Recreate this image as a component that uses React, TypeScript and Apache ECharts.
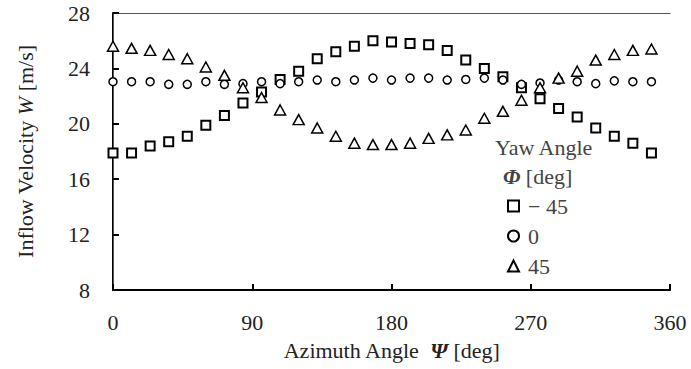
import React, { useEffect, useRef } from "react";
import * as echarts from "echarts";

const azimuth = [0, 12, 24, 36, 48, 60, 72, 84, 96, 108, 120, 132, 144, 156, 168, 180, 192, 204, 216, 228, 240, 252, 264, 276, 288, 300, 312, 324, 336, 348];
const yawMinus45 = [17.9, 17.9, 18.4, 18.7, 19.1, 19.9, 20.6, 21.5, 22.3, 23.2, 23.8, 24.7, 25.2, 25.6, 26.0, 25.9, 25.8, 25.7, 25.3, 24.6, 24.0, 23.4, 22.6, 21.8, 21.1, 20.5, 19.7, 19.1, 18.6, 17.9];
const yaw0 = [23.04, 23.04, 23.04, 22.85, 22.85, 23.04, 22.85, 22.9, 23.04, 22.9, 23.04, 23.16, 23.04, 23.16, 23.3, 23.16, 23.3, 23.3, 23.16, 23.2, 23.3, 23.16, 22.85, 22.95, 23.16, 23.04, 22.9, 23.1, 23.04, 23.04];
const yaw45 = [25.6, 25.45, 25.3, 25.0, 24.7, 24.1, 23.5, 22.6, 21.9, 21.0, 20.3, 19.7, 19.1, 18.6, 18.5, 18.5, 18.6, 18.95, 19.2, 19.55, 20.4, 20.9, 21.7, 22.6, 23.3, 23.8, 24.6, 25.0, 25.3, 25.4];
const seriesNames = ["− 45", "0", "45"];
const xTicks = { min: 0, max: 360, interval: 90 };
const yTicks = { min: 8, max: 28, interval: 4 };

const FONT = "'Liberation Serif', 'DejaVu Serif', serif";

export default function App() {
  const ref = useRef<HTMLDivElement>(null);
  useEffect(() => {
    document.body.style.margin = "0";
    const chart = echarts.init(ref.current!, null, { renderer: "svg" });
    const pair = (ys: number[]) => azimuth.map((a, i) => [a, ys[i]]);
    const marker = (symbol: string, size: any, bw: number) => ({
      type: "scatter",
      symbol,
      symbolSize: size,
      itemStyle: { color: "#fff", borderColor: "#000", borderWidth: bw, opacity: 1 },
    });
    chart.setOption({
      animation: false,
      backgroundColor: "#fff",
      textStyle: { fontFamily: FONT },
      grid: { left: 113, right: 21, top: 13, bottom: 79 },
      xAxis: [
        {
          type: "value",
          ...xTicks,
          position: "bottom",
          axisLine: { show: true, lineStyle: { color: "#000", width: 2 } },
          axisTick: { show: true, inside: true, length: 6, lineStyle: { color: "#000", width: 2 } },
          splitLine: { show: false },
          axisLabel: { color: "#222", fontSize: 22, fontFamily: FONT, margin: 21 },
          name: "Azimuth Angle  {i|Ψ} [deg]",
          nameLocation: "middle",
          nameGap: 49,
          nameTextStyle: {
            color: "#222",
            fontSize: 22,
            fontFamily: FONT,
            rich: { i: { fontStyle: "italic", fontWeight: "bold", fontSize: 22, fontFamily: FONT, color: "#222" } },
          },
        },
        {
          type: "value",
          ...xTicks,
          position: "top",
          axisLine: { show: true, lineStyle: { color: "#555", width: 1 } },
          axisTick: { show: false },
          axisLabel: { show: false },
          splitLine: { show: false },
        },
      ],
      yAxis: [
        {
          type: "value",
          ...yTicks,
          position: "left",
          axisLine: { show: true, lineStyle: { color: "#000", width: 2 } },
          axisTick: { show: true, inside: true, length: 6, lineStyle: { color: "#000", width: 2 } },
          splitLine: { show: false },
          axisLabel: { color: "#222", fontSize: 22, fontFamily: FONT, margin: 23 },
          name: "Inflow Velocity {i|W} [m/s]",
          nameLocation: "middle",
          nameRotate: 90,
          nameGap: 77,
          nameTextStyle: {
            color: "#222",
            fontSize: 22,
            fontFamily: FONT,
            rich: { i: { fontStyle: "italic", fontSize: 22, fontFamily: FONT, color: "#222" } },
          },
        },
        {
          type: "value",
          ...yTicks,
          position: "right",
          axisLine: { show: true, lineStyle: { color: "#555", width: 1 } },
          axisTick: { show: false },
          axisLabel: { show: false },
          splitLine: { show: false },
        },
      ],
      legend: {
        orient: "vertical",
        left: 507,
        top: 195,
        padding: 0,
        itemWidth: 11,
        itemHeight: 11,
        itemGap: 8,
        data: seriesNames,
        textStyle: { color: "#444", fontSize: 22, fontFamily: FONT, lineHeight: 22, padding: [0, 0, 0, 4] },
      },
      graphic: [
        { type: "text", left: 495, top: 136, style: { text: "Yaw Angle", fill: "#444", fontSize: 22, fontFamily: FONT } },
        {
          type: "text",
          left: 503,
          top: 165,
          style: {
            text: "{i|Φ} [deg]",
            fill: "#444",
            fontSize: 22,
            fontFamily: FONT,
            rich: { i: { fontStyle: "italic", fontWeight: "bold", fontSize: 22, fontFamily: FONT, fill: "#444" } },
          },
        },
      ],
      series: [
        { name: seriesNames[0], ...marker("rect", 9, 2), data: pair(yawMinus45) },
        { name: seriesNames[1], ...marker("circle", 8, 1.5), data: pair(yaw0) },
        { name: seriesNames[2], ...marker("triangle", [11, 10], 1.5), data: pair(yaw45) },
      ],
    });
    return () => chart.dispose();
  }, []);
  return <div ref={ref} style={{ width: 691, height: 369, position: "absolute", left: 0, top: 0 }} />;
}
